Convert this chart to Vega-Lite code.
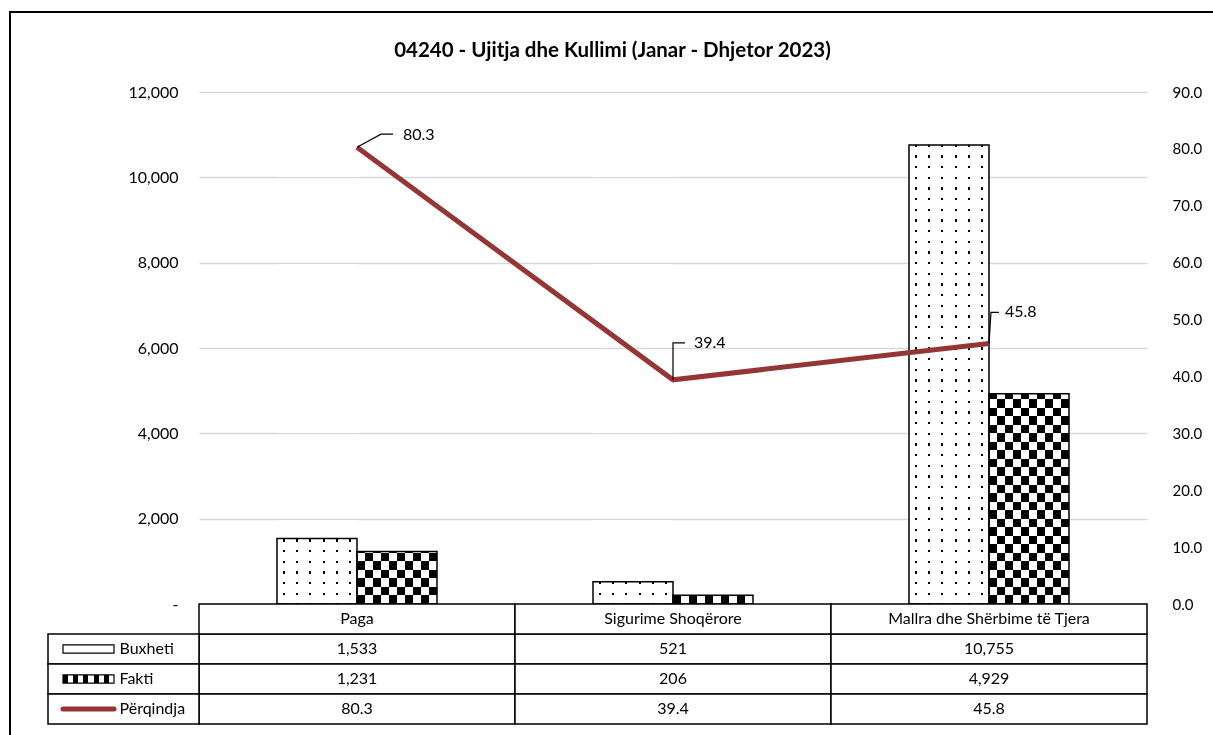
{
  "$schema": "https://vega.github.io/schema/vega-lite/v6.json",
  "width": 1205,
  "height": 726,
  "autosize": {"type": "none"},
  "padding": {"left": 10, "top": 12, "right": 0, "bottom": 0},
  "background": "white",
  "config": {
    "view": {"stroke": "#000", "strokeWidth": 2},
    "font": "Lato",
    "axis": {"labelFont": "Lato", "labelFontSize": 16, "labelColor": "#000"},
    "text": {"font": "Lato", "fontSize": 16, "color": "#000"}
  },
  "title": {"text": "04240 - Ujitja dhe Kullimi (Janar - Dhjetor 2023)", "font": "Lato", "fontSize": 20.5, "fontWeight": "bold", "color": "#000", "anchor": "middle", "frame": "group", "baseline": "middle", "offset": -59},
  "datasets": {
    "d": [
      {"cat": "Paga", "Buxheti": 1533, "Fakti": 1231, "Përqindja": 80.3},
      {"cat": "Sigurime Shoqërore", "Buxheti": 521, "Fakti": 206, "Përqindja": 39.4},
      {"cat": "Mallra dhe Shërbime të Tjera", "Buxheti": 10755, "Fakti": 4929, "Përqindja": 45.8}
    ]
  },
  "data": {"name": "d"},
  "layer": [
    {
      "transform": [{"fold": ["Buxheti", "Fakti"], "as": ["series", "value"]}],
      "mark": {"type": "bar", "fill": "transparent", "strokeWidth": 0},
      "encoding": {
        "x": {"field": "cat", "type": "nominal", "axis": null, "scale": {"domain": ["Paga", "Sigurime Shoqërore", "Mallra dhe Shërbime të Tjera"], "range": [189, 1137], "paddingInner": 0, "paddingOuter": 0}},
        "xOffset": {"field": "series", "type": "nominal", "scale": {"domain": ["Buxheti", "Fakti"], "paddingInner": 0, "paddingOuter": 0.975}},
        "y": {"field": "value", "type": "quantitative", "stack": null, "scale": {"domain": [0, 12000], "range": [592, 80], "nice": false, "zero": true}, "axis": {"orient": "left", "offset": -189, "values": [0, 2000, 4000, 6000, 8000, 10000, 12000], "format": ",.0f", "labelExpr": "datum.value === 0 ? '-' : datum.label", "domain": false, "ticks": false, "tickSize": 0, "labelPadding": 21, "grid": true, "gridColor": "#d9d9d9", "gridWidth": 1.5, "title": null}}
      }
    },
    {
      "transform": [{"fold": ["Buxheti", "Fakti"], "as": ["series", "value"]}],
      "encoding": {
        "x": {"field": "cat", "type": "nominal", "axis": null, "scale": {"domain": ["Paga", "Sigurime Shoqërore", "Mallra dhe Shërbime të Tjera"], "range": [189, 1137], "paddingInner": 0, "paddingOuter": 0}},
        "xOffset": {"field": "series", "type": "nominal", "scale": {"domain": ["Buxheti", "Fakti"], "paddingInner": 0, "paddingOuter": 0.975}}
      },
      "layer": [
        {
          "transform": [{"filter": "datum.series === 'Fakti'"}],
          "mark": {"type": "bar", "blend": "difference", "strokeWidth": 0, "fill": {"gradient": "linear", "x1": 0, "y1": 0, "x2": 0, "y2": 1, "stops": [{"offset":0,"color":"#000"},{"offset":0.04,"color":"#000"},{"offset":0.04,"color":"#fff"},{"offset":0.08,"color":"#fff"},{"offset":0.08,"color":"#000"},{"offset":0.12,"color":"#000"},{"offset":0.12,"color":"#fff"},{"offset":0.16,"color":"#fff"},{"offset":0.16,"color":"#000"},{"offset":0.2,"color":"#000"},{"offset":0.2,"color":"#fff"},{"offset":0.24,"color":"#fff"},{"offset":0.24,"color":"#000"},{"offset":0.28,"color":"#000"},{"offset":0.28,"color":"#fff"},{"offset":0.32,"color":"#fff"},{"offset":0.32,"color":"#000"},{"offset":0.36,"color":"#000"},{"offset":0.36,"color":"#fff"},{"offset":0.4,"color":"#fff"},{"offset":0.4,"color":"#000"},{"offset":0.44,"color":"#000"},{"offset":0.44,"color":"#fff"},{"offset":0.48,"color":"#fff"},{"offset":0.48,"color":"#000"},{"offset":0.52,"color":"#000"},{"offset":0.52,"color":"#fff"},{"offset":0.56,"color":"#fff"},{"offset":0.56,"color":"#000"},{"offset":0.6,"color":"#000"},{"offset":0.6,"color":"#fff"},{"offset":0.64,"color":"#fff"},{"offset":0.64,"color":"#000"},{"offset":0.68,"color":"#000"},{"offset":0.68,"color":"#fff"},{"offset":0.72,"color":"#fff"},{"offset":0.72,"color":"#000"},{"offset":0.76,"color":"#000"},{"offset":0.76,"color":"#fff"},{"offset":0.8,"color":"#fff"},{"offset":0.8,"color":"#000"},{"offset":0.84,"color":"#000"},{"offset":0.84,"color":"#fff"},{"offset":0.88,"color":"#fff"},{"offset":0.88,"color":"#000"},{"offset":0.92,"color":"#000"},{"offset":0.92,"color":"#fff"},{"offset":0.96,"color":"#fff"},{"offset":0.96,"color":"#000"},{"offset":1,"color":"#000"}]}},
          "encoding": {"y": {"datum": 5000, "type": "quantitative", "axis": null, "scale": {"domain": [0, 12000], "range": [592, 80], "nice": false, "zero": true}}, "y2": {"datum": 0}}
        },
        {
          "transform": [{"filter": "datum.series === 'Buxheti'"}],
          "mark": {"type": "bar", "strokeWidth": 0, "fill": {"gradient": "linear", "x1": 0, "y1": 0, "x2": 1, "y2": 0, "stops": [{"offset":0,"color":"#fff"},{"offset":0.0708,"color":"#fff"},{"offset":0.0708,"color":"#000"},{"offset":0.0958,"color":"#000"},{"offset":0.0958,"color":"#fff"},{"offset":0.2375,"color":"#fff"},{"offset":0.2375,"color":"#000"},{"offset":0.2625,"color":"#000"},{"offset":0.2625,"color":"#fff"},{"offset":0.4042,"color":"#fff"},{"offset":0.4042,"color":"#000"},{"offset":0.4292,"color":"#000"},{"offset":0.4292,"color":"#fff"},{"offset":0.5708,"color":"#fff"},{"offset":0.5708,"color":"#000"},{"offset":0.5958,"color":"#000"},{"offset":0.5958,"color":"#fff"},{"offset":0.7375,"color":"#fff"},{"offset":0.7375,"color":"#000"},{"offset":0.7625,"color":"#000"},{"offset":0.7625,"color":"#fff"},{"offset":0.9042,"color":"#fff"},{"offset":0.9042,"color":"#000"},{"offset":0.9292,"color":"#000"},{"offset":0.9292,"color":"#fff"},{"offset":1,"color":"#fff"}]}},
          "encoding": {"y": {"field": "value", "type": "quantitative", "stack": null, "axis": null, "scale": {"domain": [0, 12000], "range": [592, 80], "nice": false, "zero": true}}}
        },
        {
          "transform": [{"filter": "datum.series === 'Fakti'"}],
          "mark": {"type": "bar", "strokeWidth": 0, "fill": {"gradient": "linear", "x1": 0, "y1": 0, "x2": 1, "y2": 0, "stops": [{"offset":0,"color":"#000"},{"offset":0.1,"color":"#000"},{"offset":0.1,"color":"#fff"},{"offset":0.2,"color":"#fff"},{"offset":0.2,"color":"#000"},{"offset":0.3,"color":"#000"},{"offset":0.3,"color":"#fff"},{"offset":0.4,"color":"#fff"},{"offset":0.4,"color":"#000"},{"offset":0.5,"color":"#000"},{"offset":0.5,"color":"#fff"},{"offset":0.6,"color":"#fff"},{"offset":0.6,"color":"#000"},{"offset":0.7,"color":"#000"},{"offset":0.7,"color":"#fff"},{"offset":0.8,"color":"#fff"},{"offset":0.8,"color":"#000"},{"offset":0.9,"color":"#000"},{"offset":0.9,"color":"#fff"},{"offset":1,"color":"#fff"}]}},
          "encoding": {"y": {"field": "value", "type": "quantitative", "stack": null, "axis": null, "scale": {"domain": [0, 12000], "range": [592, 80], "nice": false, "zero": true}}}
        },
        {
          "transform": [{"filter": "datum.series === 'Fakti'"}],
          "mark": {"type": "bar", "blend": "difference", "strokeWidth": 0, "fill": {"gradient": "linear", "x1": 0, "y1": 0, "x2": 0, "y2": 1, "stops": [{"offset":0,"color":"#000"},{"offset":0.04,"color":"#000"},{"offset":0.04,"color":"#fff"},{"offset":0.08,"color":"#fff"},{"offset":0.08,"color":"#000"},{"offset":0.12,"color":"#000"},{"offset":0.12,"color":"#fff"},{"offset":0.16,"color":"#fff"},{"offset":0.16,"color":"#000"},{"offset":0.2,"color":"#000"},{"offset":0.2,"color":"#fff"},{"offset":0.24,"color":"#fff"},{"offset":0.24,"color":"#000"},{"offset":0.28,"color":"#000"},{"offset":0.28,"color":"#fff"},{"offset":0.32,"color":"#fff"},{"offset":0.32,"color":"#000"},{"offset":0.36,"color":"#000"},{"offset":0.36,"color":"#fff"},{"offset":0.4,"color":"#fff"},{"offset":0.4,"color":"#000"},{"offset":0.44,"color":"#000"},{"offset":0.44,"color":"#fff"},{"offset":0.48,"color":"#fff"},{"offset":0.48,"color":"#000"},{"offset":0.52,"color":"#000"},{"offset":0.52,"color":"#fff"},{"offset":0.56,"color":"#fff"},{"offset":0.56,"color":"#000"},{"offset":0.6,"color":"#000"},{"offset":0.6,"color":"#fff"},{"offset":0.64,"color":"#fff"},{"offset":0.64,"color":"#000"},{"offset":0.68,"color":"#000"},{"offset":0.68,"color":"#fff"},{"offset":0.72,"color":"#fff"},{"offset":0.72,"color":"#000"},{"offset":0.76,"color":"#000"},{"offset":0.76,"color":"#fff"},{"offset":0.8,"color":"#fff"},{"offset":0.8,"color":"#000"},{"offset":0.84,"color":"#000"},{"offset":0.84,"color":"#fff"},{"offset":0.88,"color":"#fff"},{"offset":0.88,"color":"#000"},{"offset":0.92,"color":"#000"},{"offset":0.92,"color":"#fff"},{"offset":0.96,"color":"#fff"},{"offset":0.96,"color":"#000"},{"offset":1,"color":"#000"}]}},
          "encoding": {"y": {"datum": 5000, "type": "quantitative", "axis": null, "scale": {"domain": [0, 12000], "range": [592, 80], "nice": false, "zero": true}}, "y2": {"datum": 0}}
        },
        {
          "transform": [{"filter": "datum.series === 'Buxheti'"}],
          "mark": {"type": "bar", "blend": "lighten", "strokeWidth": 0, "fill": {"gradient": "linear", "x1": 0, "y1": 0, "x2": 0, "y2": 1, "stops": [
            {"offset":0,"color":"#000"},{"offset":0.003,"color":"#000"},{"offset":0.003,"color":"#fff"},
            {"offset":0.0198,"color":"#fff"},{"offset":0.0198,"color":"#000"},{"offset":0.0238,"color":"#000"},{"offset":0.0238,"color":"#fff"},
            {"offset":0.0407,"color":"#fff"},{"offset":0.0407,"color":"#000"},{"offset":0.0447,"color":"#000"},{"offset":0.0447,"color":"#fff"},
            {"offset":0.0615,"color":"#fff"},{"offset":0.0615,"color":"#000"},{"offset":0.0655,"color":"#000"},{"offset":0.0655,"color":"#fff"},
            {"offset":0.0823,"color":"#fff"},{"offset":0.0823,"color":"#000"},{"offset":0.0863,"color":"#000"},{"offset":0.0863,"color":"#fff"},
            {"offset":0.1032,"color":"#fff"},{"offset":0.1032,"color":"#000"},{"offset":0.1072,"color":"#000"},{"offset":0.1072,"color":"#fff"},
            {"offset":0.124,"color":"#fff"},{"offset":0.124,"color":"#000"},{"offset":0.128,"color":"#000"},{"offset":0.128,"color":"#fff"},
            {"offset":0.1448,"color":"#fff"},{"offset":0.1448,"color":"#000"},{"offset":0.1488,"color":"#000"},{"offset":0.1488,"color":"#fff"},
            {"offset":0.1657,"color":"#fff"},{"offset":0.1657,"color":"#000"},{"offset":0.1697,"color":"#000"},{"offset":0.1697,"color":"#fff"},
            {"offset":0.1865,"color":"#fff"},{"offset":0.1865,"color":"#000"},{"offset":0.1905,"color":"#000"},{"offset":0.1905,"color":"#fff"},
            {"offset":0.2073,"color":"#fff"},{"offset":0.2073,"color":"#000"},{"offset":0.2113,"color":"#000"},{"offset":0.2113,"color":"#fff"},
            {"offset":0.2282,"color":"#fff"},{"offset":0.2282,"color":"#000"},{"offset":0.2322,"color":"#000"},{"offset":0.2322,"color":"#fff"},
            {"offset":0.249,"color":"#fff"},{"offset":0.249,"color":"#000"},{"offset":0.253,"color":"#000"},{"offset":0.253,"color":"#fff"},
            {"offset":0.2698,"color":"#fff"},{"offset":0.2698,"color":"#000"},{"offset":0.2738,"color":"#000"},{"offset":0.2738,"color":"#fff"},
            {"offset":0.2907,"color":"#fff"},{"offset":0.2907,"color":"#000"},{"offset":0.2947,"color":"#000"},{"offset":0.2947,"color":"#fff"},
            {"offset":0.3115,"color":"#fff"},{"offset":0.3115,"color":"#000"},{"offset":0.3155,"color":"#000"},{"offset":0.3155,"color":"#fff"},
            {"offset":0.3323,"color":"#fff"},{"offset":0.3323,"color":"#000"},{"offset":0.3363,"color":"#000"},{"offset":0.3363,"color":"#fff"},
            {"offset":0.3532,"color":"#fff"},{"offset":0.3532,"color":"#000"},{"offset":0.3572,"color":"#000"},{"offset":0.3572,"color":"#fff"},
            {"offset":0.374,"color":"#fff"},{"offset":0.374,"color":"#000"},{"offset":0.378,"color":"#000"},{"offset":0.378,"color":"#fff"},
            {"offset":0.3948,"color":"#fff"},{"offset":0.3948,"color":"#000"},{"offset":0.3988,"color":"#000"},{"offset":0.3988,"color":"#fff"},
            {"offset":0.4157,"color":"#fff"},{"offset":0.4157,"color":"#000"},{"offset":0.4197,"color":"#000"},{"offset":0.4197,"color":"#fff"},
            {"offset":0.4365,"color":"#fff"},{"offset":0.4365,"color":"#000"},{"offset":0.4405,"color":"#000"},{"offset":0.4405,"color":"#fff"},
            {"offset":0.4573,"color":"#fff"},{"offset":0.4573,"color":"#000"},{"offset":0.4613,"color":"#000"},{"offset":0.4613,"color":"#fff"},
            {"offset":0.4782,"color":"#fff"},{"offset":0.4782,"color":"#000"},{"offset":0.4822,"color":"#000"},{"offset":0.4822,"color":"#fff"},
            {"offset":0.499,"color":"#fff"},{"offset":0.499,"color":"#000"},{"offset":0.503,"color":"#000"},{"offset":0.503,"color":"#fff"},
            {"offset":0.5198,"color":"#fff"},{"offset":0.5198,"color":"#000"},{"offset":0.5238,"color":"#000"},{"offset":0.5238,"color":"#fff"},
            {"offset":0.5407,"color":"#fff"},{"offset":0.5407,"color":"#000"},{"offset":0.5447,"color":"#000"},{"offset":0.5447,"color":"#fff"},
            {"offset":0.5615,"color":"#fff"},{"offset":0.5615,"color":"#000"},{"offset":0.5655,"color":"#000"},{"offset":0.5655,"color":"#fff"},
            {"offset":0.5823,"color":"#fff"},{"offset":0.5823,"color":"#000"},{"offset":0.5863,"color":"#000"},{"offset":0.5863,"color":"#fff"},
            {"offset":0.6032,"color":"#fff"},{"offset":0.6032,"color":"#000"},{"offset":0.6072,"color":"#000"},{"offset":0.6072,"color":"#fff"},
            {"offset":0.624,"color":"#fff"},{"offset":0.624,"color":"#000"},{"offset":0.628,"color":"#000"},{"offset":0.628,"color":"#fff"},
            {"offset":0.6448,"color":"#fff"},{"offset":0.6448,"color":"#000"},{"offset":0.6488,"color":"#000"},{"offset":0.6488,"color":"#fff"},
            {"offset":0.6657,"color":"#fff"},{"offset":0.6657,"color":"#000"},{"offset":0.6697,"color":"#000"},{"offset":0.6697,"color":"#fff"},
            {"offset":0.6865,"color":"#fff"},{"offset":0.6865,"color":"#000"},{"offset":0.6905,"color":"#000"},{"offset":0.6905,"color":"#fff"},
            {"offset":0.7073,"color":"#fff"},{"offset":0.7073,"color":"#000"},{"offset":0.7113,"color":"#000"},{"offset":0.7113,"color":"#fff"},
            {"offset":0.7282,"color":"#fff"},{"offset":0.7282,"color":"#000"},{"offset":0.7322,"color":"#000"},{"offset":0.7322,"color":"#fff"},
            {"offset":0.749,"color":"#fff"},{"offset":0.749,"color":"#000"},{"offset":0.753,"color":"#000"},{"offset":0.753,"color":"#fff"},
            {"offset":0.7698,"color":"#fff"},{"offset":0.7698,"color":"#000"},{"offset":0.7738,"color":"#000"},{"offset":0.7738,"color":"#fff"},
            {"offset":0.7907,"color":"#fff"},{"offset":0.7907,"color":"#000"},{"offset":0.7947,"color":"#000"},{"offset":0.7947,"color":"#fff"},
            {"offset":0.8115,"color":"#fff"},{"offset":0.8115,"color":"#000"},{"offset":0.8155,"color":"#000"},{"offset":0.8155,"color":"#fff"},
            {"offset":0.8323,"color":"#fff"},{"offset":0.8323,"color":"#000"},{"offset":0.8363,"color":"#000"},{"offset":0.8363,"color":"#fff"},
            {"offset":0.8532,"color":"#fff"},{"offset":0.8532,"color":"#000"},{"offset":0.8572,"color":"#000"},{"offset":0.8572,"color":"#fff"},
            {"offset":0.874,"color":"#fff"},{"offset":0.874,"color":"#000"},{"offset":0.878,"color":"#000"},{"offset":0.878,"color":"#fff"},
            {"offset":0.8948,"color":"#fff"},{"offset":0.8948,"color":"#000"},{"offset":0.8988,"color":"#000"},{"offset":0.8988,"color":"#fff"},
            {"offset":0.9157,"color":"#fff"},{"offset":0.9157,"color":"#000"},{"offset":0.9197,"color":"#000"},{"offset":0.9197,"color":"#fff"},
            {"offset":0.9365,"color":"#fff"},{"offset":0.9365,"color":"#000"},{"offset":0.9405,"color":"#000"},{"offset":0.9405,"color":"#fff"},
            {"offset":0.9573,"color":"#fff"},{"offset":0.9573,"color":"#000"},{"offset":0.9613,"color":"#000"},{"offset":0.9613,"color":"#fff"},
            {"offset":0.9782,"color":"#fff"},{"offset":0.9782,"color":"#000"},{"offset":0.9822,"color":"#000"},{"offset":0.9822,"color":"#fff"},
            {"offset":0.999,"color":"#fff"},{"offset":0.999,"color":"#000"},{"offset":1,"color":"#000"}]}},
          "encoding": {"y": {"datum": 12000, "type": "quantitative", "axis": null, "scale": {"domain": [0, 12000], "range": [592, 80], "nice": false, "zero": true}}, "y2": {"datum": 0}}
        },
        {
          "mark": {"type": "bar", "fill": "transparent", "stroke": "#000", "strokeWidth": 1.5},
          "encoding": {"y": {"field": "value", "type": "quantitative", "stack": null, "axis": null, "scale": {"domain": [0, 12000], "range": [592, 80], "nice": false, "zero": true}}}
        }
      ]
    },
    {
      "encoding": {
        "x": {"field": "cat", "type": "nominal", "axis": null, "scale": {"domain": ["Paga", "Sigurime Shoqërore", "Mallra dhe Shërbime të Tjera"], "range": [189, 1137], "paddingInner": 0, "paddingOuter": 0}},
        "y": {"field": "Përqindja", "type": "quantitative", "scale": {"domain": [0, 90], "range": [592, 80], "nice": false, "zero": true}, "axis": {"orient": "right", "offset": -68, "values": [0, 10, 20, 30, 40, 50, 60, 70, 80, 90], "format": ".1f", "domain": false, "ticks": false, "tickSize": 0, "labelPadding": 25, "labelFontSize": 15, "grid": false, "title": null}}
      },
      "layer": [
        {"mark": {"type": "line", "color": "#963634", "strokeWidth": 5}},
        {"transform": [{"filter": "datum.cat === 'Paga'"}], "mark": {"type": "point", "shape": "M0,0L0.6,-0.325L0.9,-0.325", "size": 6400, "filled": false, "stroke": "#000", "strokeWidth": 1.2, "opacity": 1}},
        {"transform": [{"filter": "datum.cat === 'Sigurime Shoqërore'"}], "mark": {"type": "point", "shape": "M0,0L0,-0.925L0.3,-0.925", "size": 6400, "filled": false, "stroke": "#000", "strokeWidth": 1.2, "opacity": 1}},
        {"transform": [{"filter": "datum.cat === 'Mallra dhe Shërbime të Tjera'"}], "mark": {"type": "point", "shape": "M0,0L0.05,-0.775L0.25,-0.775", "size": 6400, "filled": false, "stroke": "#000", "strokeWidth": 1.2, "opacity": 1}},
        {"transform": [{"filter": "datum.cat === 'Paga'"}], "mark": {"type": "text", "align": "left", "baseline": "middle", "dx": 46, "dy": -12, "fontSize": 16}, "encoding": {"text": {"field": "Përqindja", "type": "quantitative", "format": ".1f"}}},
        {"transform": [{"filter": "datum.cat === 'Sigurime Shoqërore'"}], "mark": {"type": "text", "align": "left", "baseline": "middle", "dx": 21, "dy": -37, "fontSize": 16}, "encoding": {"text": {"field": "Përqindja", "type": "quantitative", "format": ".1f"}}},
        {"transform": [{"filter": "datum.cat === 'Mallra dhe Shërbime të Tjera'"}], "mark": {"type": "text", "align": "left", "baseline": "middle", "dx": 16, "dy": -31, "fontSize": 16}, "encoding": {"text": {"field": "Përqindja", "type": "quantitative", "format": ".1f"}}}
      ]
    },
    {
      "transform": [{"fold": ["Buxheti", "Fakti", "Përqindja"], "as": ["row", "value"]}],
      "encoding": {
        "x": {"field": "cat", "type": "nominal", "axis": null, "scale": {"domain": ["Paga", "Sigurime Shoqërore", "Mallra dhe Shërbime të Tjera"], "range": [189, 1137], "paddingInner": 0, "paddingOuter": 0}},
        "y": {"field": "row", "type": "nominal", "axis": null, "scale": {"domain": ["hdr", "Buxheti", "Fakti", "Përqindja"], "range": [592, 712], "paddingInner": 0, "paddingOuter": 0}}
      },
      "layer": [
        {"mark": {"type": "rect", "fill": "white", "stroke": "#000", "strokeWidth": 1.5}},
        {"mark": {"type": "text", "fontSize": 16, "baseline": "middle"}, "encoding": {"text": {"condition": {"test": "datum.row === 'Përqindja'", "field": "value", "type": "quantitative", "format": ".1f"}, "field": "value", "type": "quantitative", "format": ",.0f"}}}
      ]
    },
    {
      "encoding": {
        "x": {"field": "cat", "type": "nominal", "axis": null, "scale": {"domain": ["Paga", "Sigurime Shoqërore", "Mallra dhe Shërbime të Tjera"], "range": [189, 1137], "paddingInner": 0, "paddingOuter": 0}},
        "y": {"datum": "hdr", "type": "nominal", "axis": null, "scale": {"domain": ["hdr", "Buxheti", "Fakti", "Përqindja"], "range": [592, 712], "paddingInner": 0, "paddingOuter": 0}}
      },
      "layer": [
        {"mark": {"type": "rect", "fill": "white", "stroke": "#000", "strokeWidth": 1.5}},
        {"mark": {"type": "text", "fontSize": 16, "baseline": "middle"}, "encoding": {"text": {"field": "cat", "type": "nominal"}}}
      ]
    },
    {
      "transform": [{"filter": "datum.cat === 'Paga'"}, {"fold": ["Buxheti", "Fakti", "Përqindja"], "as": ["row", "value"]}],
      "encoding": {
        "x": {"datum": "L", "type": "nominal", "axis": null, "scale": {"domain": ["L"], "range": [38, 189], "paddingInner": 0, "paddingOuter": 0}},
        "y": {"field": "row", "type": "nominal", "axis": null, "scale": {"domain": ["hdr", "Buxheti", "Fakti", "Përqindja"], "range": [592, 712], "paddingInner": 0, "paddingOuter": 0}}
      },
      "layer": [
        {"mark": {"type": "rect", "fill": "white", "stroke": "#000", "strokeWidth": 1.5}},
        {"mark": {"type": "text", "align": "left", "baseline": "middle", "dx": -4, "fontSize": 16}, "encoding": {"text": {"field": "row", "type": "nominal"}}},
        {"transform": [{"filter": "datum.row === 'Buxheti'"}], "mark": {"type": "point", "shape": "M-1,-0.16H1V0.16H-1Z", "size": 2601, "filled": true, "fill": "white", "stroke": "#000", "strokeWidth": 1.2, "opacity": 1, "xOffset": -35}},
        {"transform": [{"filter": "datum.row === 'Fakti'"}], "mark": {"type": "point", "shape": "M-1,-0.16H1V0.16H-1Z", "size": 2601, "filled": true, "stroke": "#000", "strokeWidth": 1.2, "opacity": 1, "xOffset": -35, "fill": {"gradient": "linear", "x1": 0, "y1": 0, "x2": 1, "y2": 0, "stops": [{"offset":0,"color":"#000"},{"offset":0.1,"color":"#000"},{"offset":0.1,"color":"#fff"},{"offset":0.2,"color":"#fff"},{"offset":0.2,"color":"#000"},{"offset":0.3,"color":"#000"},{"offset":0.3,"color":"#fff"},{"offset":0.4,"color":"#fff"},{"offset":0.4,"color":"#000"},{"offset":0.5,"color":"#000"},{"offset":0.5,"color":"#fff"},{"offset":0.6,"color":"#fff"},{"offset":0.6,"color":"#000"},{"offset":0.7,"color":"#000"},{"offset":0.7,"color":"#fff"},{"offset":0.8,"color":"#fff"},{"offset":0.8,"color":"#000"},{"offset":0.9,"color":"#000"},{"offset":0.9,"color":"#fff"},{"offset":1,"color":"#fff"}]}}},
        {"transform": [{"filter": "datum.row === 'Përqindja'"}], "mark": {"type": "point", "shape": "M-1,0H1", "size": 2601, "filled": false, "stroke": "#963634", "strokeWidth": 5, "strokeCap": "round", "opacity": 1, "xOffset": -35}}
      ]
    }
  ],
  "resolve": {"scale": {"x": "independent", "y": "independent"}}
}
